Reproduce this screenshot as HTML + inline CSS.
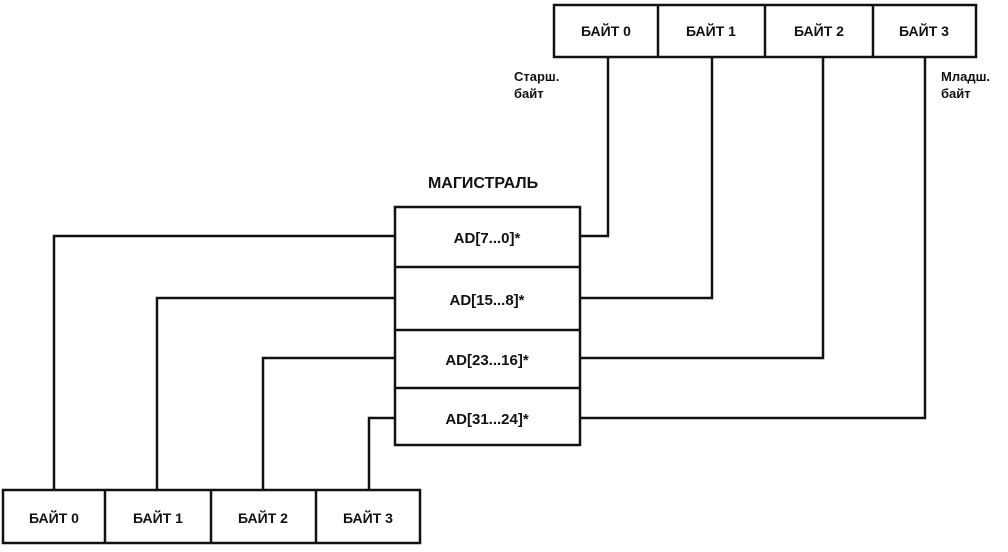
<!DOCTYPE html>
<html><head><meta charset="utf-8"><style>
body{margin:0;background:#fff;}
svg text{font-family:"Liberation Sans",sans-serif;font-weight:bold;fill:#111;}
</style></head><body>
<svg width="1008" height="547" viewBox="0 0 1008 547" xmlns="http://www.w3.org/2000/svg">
<g fill="none" stroke="#111" stroke-width="2.5">
<rect x="554" y="5" width="422" height="52"/>
<line x1="658" y1="5" x2="658" y2="57"/>
<line x1="765" y1="5" x2="765" y2="57"/>
<line x1="873" y1="5" x2="873" y2="57"/>
<rect x="395" y="207" width="185" height="238"/>
<line x1="395" y1="267" x2="580" y2="267"/>
<line x1="395" y1="330" x2="580" y2="330"/>
<line x1="395" y1="388" x2="580" y2="388"/>
<rect x="3" y="490" width="417" height="53"/>
<line x1="105" y1="490" x2="105" y2="543"/>
<line x1="211" y1="490" x2="211" y2="543"/>
<line x1="316" y1="490" x2="316" y2="543"/>
<polyline points="608,57 608,236 580,236"/>
<polyline points="712,57 712,298 580,298"/>
<polyline points="823,57 823,358 580,358"/>
<polyline points="925,57 925,418 580,418"/>
<polyline points="395,236 54,236 54,490"/>
<polyline points="395,298 157,298 157,490"/>
<polyline points="395,358 263,358 263,490"/>
<polyline points="395,418 369,418 369,490"/>
</g>
<g font-size="14" text-anchor="middle">
<text x="606" y="36">БАЙТ 0</text>
<text x="711" y="36">БАЙТ 1</text>
<text x="819" y="36">БАЙТ 2</text>
<text x="924" y="36">БАЙТ 3</text>
<text x="54" y="523">БАЙТ 0</text>
<text x="158" y="523">БАЙТ 1</text>
<text x="263" y="523">БАЙТ 2</text>
<text x="368" y="523">БАЙТ 3</text>
</g>
<g font-size="15" text-anchor="middle">
<text x="487" y="243">AD[7...0]*</text>
<text x="487" y="305">AD[15...8]*</text>
<text x="487" y="365">AD[23...16]*</text>
<text x="487" y="424">AD[31...24]*</text>
<text x="483" y="188" font-size="16">МАГИСТРАЛЬ</text>
</g>
<g font-size="13">
<text x="514" y="81">Старш.</text>
<text x="514" y="98">байт</text>
<text x="941" y="81">Младш.</text>
<text x="941" y="98">байт</text>
</g>
</svg>
</body></html>
